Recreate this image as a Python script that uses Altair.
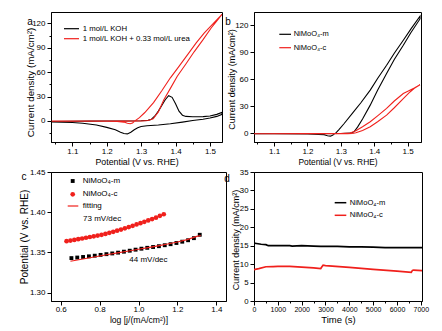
import altair as alt
import pandas as pd

FONT = "Liberation Sans"
BLACK = "#000000"
RED = "#f0201c"

# ---------------- panel a data ----------------
a_names = ["1 mol/L  KOH", "1 mol/L  KOH + 0.33 mol/L  urea"]
a_koh_x = [1.04, 1.10, 1.15, 1.20, 1.25, 1.30, 1.32, 1.33, 1.34, 1.35, 1.36, 1.37, 1.38, 1.39, 1.40,
           1.41, 1.42, 1.43, 1.45, 1.48, 1.50, 1.52, 1.535,
           1.535, 1.52, 1.50, 1.48, 1.45, 1.42, 1.385, 1.35, 1.317, 1.30, 1.29, 1.28, 1.27, 1.26,
           1.25, 1.24, 1.225, 1.20, 1.17, 1.13, 1.10, 1.04]
a_koh_y = [-0.8, -0.5, -0.3, -0.2, -0.1, 0.2, 0.6, 2, 6, 12, 19, 26, 31, 29, 21,
           12, 7, 5.5, 5, 5.2, 6, 8, 10.5,
           8, 5.5, 3.5, 2, 0.5, -1.5, -3.5, -5, -6, -7, -8.5, -11, -14, -16,
           -15.5, -14, -11, -8, -5, -3, -2, -1.2]
a_urea_x = [1.04, 1.10, 1.20, 1.25, 1.30, 1.32, 1.335, 1.35, 1.366, 1.385, 1.405, 1.43, 1.454, 1.48,
            1.503, 1.52, 1.535,
            1.535, 1.51, 1.483, 1.46, 1.434, 1.41, 1.385, 1.36, 1.336, 1.31, 1.295, 1.282, 1.275,
            1.268, 1.26, 1.25, 1.23, 1.20, 1.10, 1.04]
a_urea_y = [-0.3, -0.2, -0.2, -0.3, -0.1, 0.5, 2.5, 11, 26, 40, 55, 70, 85, 100,
            114, 123, 131,
            131, 120, 108, 96, 81, 67, 53, 37, 22.4, 10, 4, 0, -2.5,
            -3.5, -3, -1.5, -0.6, -0.3, -0.3, -0.3]

# ---------------- panel b data ----------------
b_names = ["NiMoO\u2084-m", "NiMoO\u2084-c"]
b_m_x = [1.04, 1.10, 1.20, 1.30, 1.33, 1.34, 1.35, 1.365, 1.388, 1.41, 1.437, 1.46, 1.487, 1.51, 1.537,
         1.537, 1.51, 1.487, 1.46, 1.437, 1.41, 1.388, 1.36, 1.338, 1.31, 1.295, 1.284, 1.275, 1.269,
         1.26, 1.25, 1.20, 1.10, 1.04]
b_m_y = [-0.3, -0.3, -0.2, -0.1, 0.3, 2, 7, 16, 31.4, 48, 66.4, 82, 97.8, 112, 127,
         130, 116, 103.4, 89, 75.7, 61, 48, 34, 24, 11, 4.5, 0, -2, -3,
         -2.5, -1.5, -0.5, -0.3, -0.3]
b_c_x = [1.04, 1.20, 1.30, 1.328, 1.345, 1.365, 1.388, 1.41, 1.437, 1.46, 1.487, 1.502, 1.52, 1.537,
         1.537, 1.52, 1.507, 1.487, 1.46, 1.437, 1.41, 1.388, 1.365, 1.345, 1.335, 1.32, 1.30, 1.20, 1.04]
b_c_y = [-0.3, -0.2, -0.1, 0.5, 3, 7.5, 13, 19.5, 27.7, 36, 44.3, 47, 50.5, 54,
         54, 50, 46, 38.7, 28.5, 20.3, 13, 7.4, 3.2, 0.8, 0, -0.3, -0.2, -0.2, -0.3]

# ---------------- panel c data ----------------
c_m_x = [0.655, 0.685, 0.715, 0.745, 0.775, 0.805, 0.835, 0.865, 0.895, 0.925, 0.955, 0.985,
         1.015, 1.045, 1.075, 1.105, 1.135, 1.165, 1.195, 1.225, 1.255, 1.285, 1.315]
c_m_y = [1.3430, 1.3437, 1.3444, 1.3452, 1.3460, 1.3470, 1.3479, 1.3488, 1.3498, 1.3510, 1.3522, 1.3535,
         1.3547, 1.3558, 1.3568, 1.3578, 1.3590, 1.3603, 1.3618, 1.3634, 1.3652, 1.3678, 1.3720]
c_c_x = [0.63, 0.65, 0.67, 0.69, 0.71, 0.73, 0.75, 0.77, 0.79, 0.81, 0.83, 0.85, 0.87, 0.89,
         0.91, 0.93, 0.95, 0.97, 0.99, 1.01, 1.03, 1.05, 1.07, 1.09, 1.11, 1.13]
c_c_y = [1.3640, 1.3648, 1.3656, 1.3665, 1.3674, 1.3683, 1.3692, 1.3701, 1.3710, 1.3719, 1.3731, 1.3744,
         1.3757, 1.3771, 1.3785, 1.3800, 1.3815, 1.3831, 1.3848, 1.3864, 1.3881, 1.3898, 1.3915, 1.3932,
         1.3955, 1.3975]
c_fit_x = [0.65, 0.70, 0.75, 0.80, 0.85, 0.90, 0.95, 1.00, 1.05, 1.10, 1.15, 1.20, 1.25, 1.30, 1.32]
c_fit_y = [1.3390, 1.3412, 1.3434, 1.3456, 1.3477, 1.3498, 1.3519, 1.3540, 1.3560, 1.3582, 1.3605,
           1.3630, 1.3660, 1.3700, 1.3712]
c_notes = ["73 mV/dec", "44 mV/dec"]
c_note_x = [0.813, 1.051]
c_note_y = [1.3917, 1.3410]

# ---------------- panel d data ----------------
d_m_t = [0, 100, 300, 500, 600, 1000, 1500, 1600, 2000, 2500, 2800, 3000, 3500, 4000, 4500, 5000,
         5500, 6000, 6500, 7100]
d_m_j = [15.7, 15.6, 15.4, 15.3, 15.0, 15.0, 15.0, 14.9, 15.0, 14.9, 14.8, 14.8, 14.8, 14.7, 14.7, 14.6,
         14.5, 14.5, 14.5, 14.5]
d_c_t = [0, 200, 500, 800, 1000, 1500, 2000, 2500, 2800, 2850, 2900, 3000, 4000, 5000, 6000, 6600,
         6650, 6700, 7100]
d_c_j = [8.5, 8.8, 9.3, 9.35, 9.4, 9.4, 9.2, 9.0, 8.8, 9.3, 9.7, 9.6, 9.1, 8.6, 8.1, 7.8, 8.3, 8.4, 8.2]


def path_df(xs, ys, name):
    return pd.DataFrame({"x": xs, "y": ys, "s": name, "i": list(range(len(xs)))})


def axis(title, values, fmt, major_test, tsize=8, ttl=9, tpad=2, minor=True,
         title_x=None, title_y=None, lpad=2):
    kw = dict(
        title=title, values=values, grid=False,
        labelFont=FONT, titleFont=FONT, labelFontSize=tsize, titleFontSize=ttl,
        titleFontWeight="normal", labelColor=BLACK, titleColor=BLACK,
        domainColor=BLACK, tickColor=BLACK, domainWidth=1, tickWidth=1,
        labelPadding=lpad, titlePadding=tpad, labelFlush=False, labelOverlap=False,
    )
    if minor:
        kw["labelExpr"] = f"({major_test}) ? format(datum.value, '{fmt}') : ''"
        kw["tickSize"] = {"condition": {"test": major_test, "value": 4}, "value": 2}
    else:
        kw["format"] = fmt
        kw["tickSize"] = 4
    if title_x is not None:
        kw["titleX"] = title_x
        kw["titleY"] = title_y
        kw["titleAngle"] = 270
        kw["titleAlign"] = "center"
        kw["titleBaseline"] = "bottom"
    return alt.Axis(**kw)


def leg_line(x0, x1, y, color, label, tx, fs, sw=1.2):
    df = pd.DataFrame({"l": [label]})
    r = alt.Chart(df).mark_rule(color=color, strokeWidth=sw).encode(
        x=alt.value(x0), x2=alt.value(x1), y=alt.value(y))
    t = alt.Chart(df).mark_text(align="left", baseline="middle", font=FONT, fontSize=fs,
                                color=BLACK).encode(x=alt.value(tx), y=alt.value(y), text="l:N")
    return [r, t]


def letter(ch, x, y):
    df = pd.DataFrame({"l": [ch]})
    return alt.Chart(df).mark_text(align="center", baseline="middle", font=FONT, fontSize=10,
                                   color=BLACK).encode(x=alt.value(x), y=alt.value(y), text="l:N")


HA, HB, HC, HD = 130, 130, 129, 129

# ---------------- panel a ----------------
a_df = pd.concat([path_df(a_koh_x, a_koh_y, a_names[0]), path_df(a_urea_x, a_urea_y, a_names[1])])
xa_vals = [round(1.05 + 0.05 * k, 2) for k in range(10)]
ya_vals = [-15, 0, 15, 30, 45, 60, 75, 90, 105, 120]
a_lines = alt.Chart(a_df).mark_line(strokeWidth=1.1, clip=True).encode(
    x=alt.X("x:Q", scale=alt.Scale(domain=[1.038, 1.535], nice=False, zero=False),
            axis=axis("Potential (V vs. RHE)", xa_vals, ".1f",
                      "abs(datum.value*10 - round(datum.value*10)) < 0.001", ttl=8.8, lpad=1)),
    y=alt.Y("y:Q", scale=alt.Scale(domain=[-26, 134], nice=False, zero=False),
            axis=axis("Current density (mA/cm\u00b2)", ya_vals, "d", "datum.value % 30 == 0",
                      ttl=9.8, title_x=-16, title_y=70)),
    color=alt.Color("s:N", scale=alt.Scale(domain=a_names, range=[BLACK, RED]), legend=None),
    order="i:Q",
)
panel_a = alt.layer(
    a_lines,
    *leg_line(13, 28, 16.7, BLACK, "1 mol/L KOH", 31.7, 7.8),
    *leg_line(13, 28, 26.7, RED, a_names[1], 31.7, 7.8),
    letter("a", -21, 10),
).properties(width=171, height=HA)

# ---------------- panel b ----------------
b_df = pd.concat([path_df(b_m_x, b_m_y, b_names[0]), path_df(b_c_x, b_c_y, b_names[1])])
xb_vals = [round(1.05 + 0.05 * k, 2) for k in range(10)]
b_lines = alt.Chart(b_df).mark_line(strokeWidth=1.1, clip=True).encode(
    x=alt.X("x:Q", scale=alt.Scale(domain=[1.04, 1.54], nice=False, zero=False),
            axis=axis("Potential (V vs. RHE)", xb_vals, ".1f",
                      "abs(datum.value*10 - round(datum.value*10)) < 0.001", ttl=8.4, lpad=1)),
    y=alt.Y("y:Q", scale=alt.Scale(domain=[-9.5, 134.7], nice=False, zero=False),
            axis=axis("Current density (mA/cm\u00b2)", [0, 30, 60, 90, 120], "d", "", ttl=9,
                      minor=False, title_x=-18, title_y=HB / 2 + 2)),
    color=alt.Color("s:N", scale=alt.Scale(domain=b_names, range=[BLACK, RED]), legend=None),
    order="i:Q",
)
panel_b = alt.layer(
    b_lines,
    *leg_line(25.3, 37, 22.3, BLACK, b_names[0], 39.7, 7.5),
    *leg_line(25.3, 37, 35.7, RED, b_names[1], 39.7, 7.5),
    letter("b", -26, 10),
).properties(width=167, height=HB)

# ---------------- panel c ----------------
c_names = ["NiMoO\u2084-m", "NiMoO\u2084-c"]
c_pts = pd.concat([
    pd.DataFrame({"x": c_m_x, "y": c_m_y, "s": c_names[0]}),
    pd.DataFrame({"x": c_c_x, "y": c_c_y, "s": c_names[1]}),
])
xc = alt.X("x:Q", scale=alt.Scale(domain=[0.55, 1.45], nice=False, zero=False),
           axis=axis("log [j/(mA/cm\u00b2)]", [0.6, 0.7, 0.8, 0.9, 1.0, 1.1, 1.2, 1.3, 1.4], ".1f",
                     "abs(datum.value*5 - round(datum.value*5)) < 0.001", ttl=8.6, lpad=0.5,
                     tpad=1.5))
yc = alt.Y("y:Q", scale=alt.Scale(domain=[1.2897, 1.45], nice=False, zero=False),
           axis=axis("Potential (V vs. RHE)", [1.30, 1.35, 1.40, 1.45], ".2f", "", ttl=10,
                     minor=False, title_x=-21.6, title_y=HC / 2))
c_points = alt.Chart(c_pts).mark_point(filled=True, opacity=1, clip=True).encode(
    x=xc, y=yc,
    color=alt.Color("s:N", scale=alt.Scale(domain=c_names, range=[BLACK, RED]), legend=None),
    shape=alt.Shape("s:N", scale=alt.Scale(domain=c_names, range=["square", "circle"]), legend=None),
    size=alt.Size("s:N", scale=alt.Scale(domain=c_names, range=[15, 22]), legend=None),
)
c_fit = alt.Chart(pd.DataFrame({"x": c_fit_x, "y": c_fit_y})).mark_line(
    color=RED, strokeWidth=1.1, clip=True).encode(x="x:Q", y="y:Q")
c_text = alt.Chart(pd.DataFrame({"x": c_note_x, "y": c_note_y, "t": c_notes})).mark_text(
    font=FONT, fontSize=8, color=BLACK, align="center", baseline="middle").encode(
    x="x:Q", y="y:Q", text="t:N")
leg_c1 = alt.Chart(pd.DataFrame({"l": [c_names[0]]})).mark_point(
    filled=True, opacity=1, shape="square", size=15, color=BLACK).encode(
    x=alt.value(21.7), y=alt.value(9))
leg_c2 = alt.Chart(pd.DataFrame({"l": [c_names[1]]})).mark_point(
    filled=True, opacity=1, shape="circle", size=22, color=RED).encode(
    x=alt.value(21.7), y=alt.value(22.3))
leg_c_t = [
    alt.Chart(pd.DataFrame({"l": [lab]})).mark_text(
        align="left", baseline="middle", font=FONT, fontSize=8, color=BLACK).encode(
        x=alt.value(31.7), y=alt.value(yy), text="l:N")
    for lab, yy in [(c_names[0], 9), (c_names[1], 22.3)]
]
panel_c = alt.layer(
    c_points, c_fit, c_text, leg_c1, leg_c2, *leg_c_t,
    *leg_line(16.7, 27.3, 34, RED, "fitting", 31.7, 8),
    letter("c", -27, 5),
).properties(width=175, height=HC)

# ---------------- panel d ----------------
d_df = pd.concat([path_df(d_m_t, d_m_j, b_names[0]), path_df(d_c_t, d_c_j, b_names[1])])
xd_vals = list(range(0, 7001, 500))
yd_vals = list(range(0, 36, 5))
d_lines = alt.Chart(d_df).mark_line(strokeWidth=1.7, clip=True).encode(
    x=alt.X("x:Q", scale=alt.Scale(domain=[0, 7050], nice=False, zero=False),
            axis=axis("Time (s)", xd_vals, "d", "datum.value % 1000 == 0", tsize=7, ttl=9.5,
                      lpad=0.5, tpad=1.5)),
    y=alt.Y("y:Q", scale=alt.Scale(domain=[0, 35], nice=False, zero=False),
            axis=axis("Current density (mA/cm\u00b2)", yd_vals, "d", "", tsize=7.8, ttl=9,
                      minor=False, title_x=-14, title_y=HD / 2 + 3)),
    color=alt.Color("s:N", scale=alt.Scale(domain=b_names, range=[BLACK, RED]), legend=None),
    order="i:Q",
)
panel_d = alt.layer(
    d_lines,
    *leg_line(80.7, 92.3, 30.7, BLACK, b_names[0], 95.7, 7.6, sw=1.5),
    *leg_line(80.7, 92.3, 43.3, RED, b_names[1], 95.7, 7.6, sw=1.5),
    letter("d", -27, 7),
).properties(width=168, height=HD)

chart = alt.concat(
    panel_a, panel_b, panel_c, panel_d, columns=2,
    spacing={"row": 30, "column": 28}, bounds="flush", align="each",
).properties(
    padding={"left": 18, "top": 11, "right": 5, "bottom": 5},
    background="white",
).resolve_scale(x="independent", y="independent", color="independent",
                shape="independent", size="independent").configure_view(stroke=BLACK, strokeWidth=1)

chart.save("out.html", embed_options={"renderer": "svg", "actions": False})
